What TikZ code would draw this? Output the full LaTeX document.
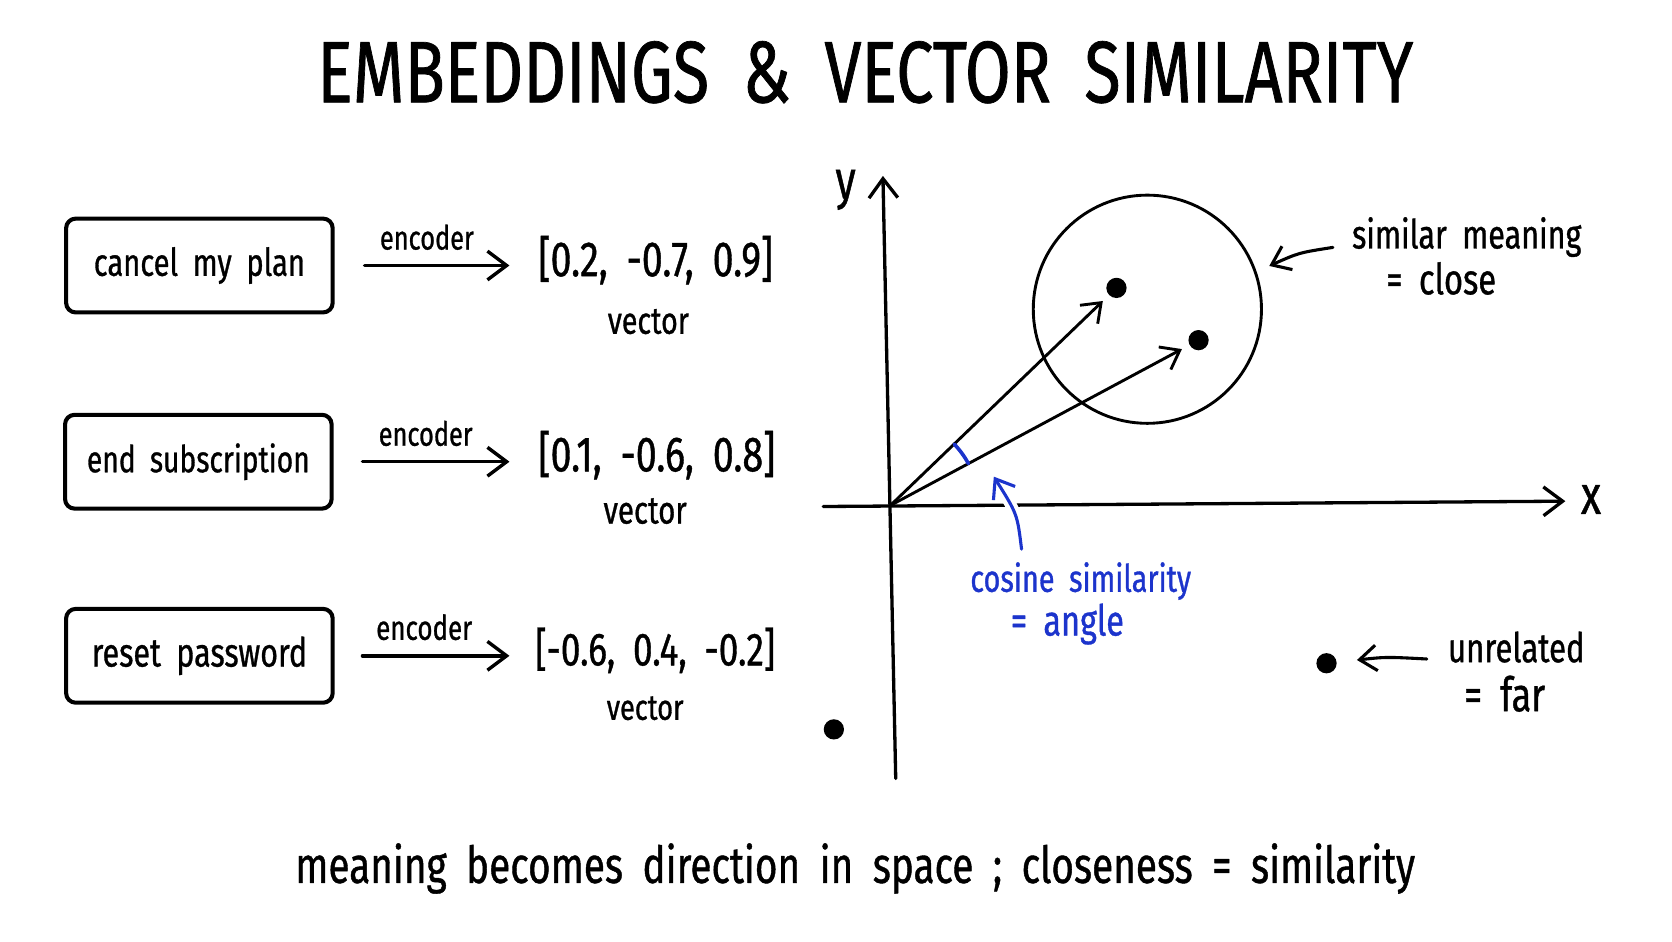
\documentclass[tikz,border=0pt]{standalone}
\usepackage{fontspec}
\setmainfont{Fira Sans}[FakeStretch=0.76,WordSpace=1.9,FakeBold=0.8]
\usetikzlibrary{arrows.meta}
\definecolor{inkblue}{RGB}{28,52,204}
\newcommand{\fw}[2]{\resizebox{#1pt}{!}{#2}}
\begin{document}
\begin{tikzpicture}[x=1pt,y=-1pt,line cap=round,line join=round,
  txt/.style={inner sep=0pt,anchor=base},
  wordbox/.style={draw,line width=3.8pt,rounded corners=9pt,minimum width=250pt,minimum height=88pt,inner sep=0pt},
  arr/.style={line width=3.2pt,-{Straight Barb[length=18pt,width=27pt,line width=3.2pt]}},
  vecarr/.style={line width=2.7pt,-{Straight Barb[length=16pt,width=24pt,line width=2.7pt]}},
  axarr/.style={line width=3.1pt,-{Straight Barb[length=18pt,width=27pt,line width=3.1pt]}},
  dot/.style={circle,fill=black,minimum size=19pt,inner sep=0pt},
  note/.style={line width=2.9pt,-{Straight Barb[length=16pt,width=24pt,line width=2.9pt]}},
  bluenote/.style={line width=2.9pt,draw=inkblue,-{Straight Barb[length=16pt,width=24pt,line width=2.9pt]},
    preaction={draw=white,line width=11pt,-}}
]
\useasboundingbox (0,0) rectangle (1568,882.5);
\fill[white] (0,0) rectangle (1568,882.5);

% title
\node[txt] (title) at (811.5,96) {\fw{1027}{EMBEDDINGS \& VECTOR SIMILARITY}};

% input boxes
\node[wordbox] (b1) at (187,249) {\fw{198}{cancel my plan}};
\node[wordbox] (b2) at (186,433) {\fw{209}{end subscription}};
\node[wordbox] (b3) at (187,615) {\fw{202}{reset password}};

% vectors
\node[txt] (v1) at (615,259) {\fw{220}{[0.2, -0.7, 0.9]}};
\node[txt] (v2) at (616,442) {\fw{222}{[0.1, -0.6, 0.8]}};
\node[txt] (v3) at (614.5,624) {\fw{225}{[-0.6, 0.4, -0.2]}};
\node[txt] (w1) at (608,313) {\fw{76}{vector}};
\node[txt] (w2) at (605,491) {\fw{78}{vector}};
\node[txt] (w3) at (605,675) {\fw{72}{vector}};

% encoder arrows
\draw[arr] ([xshift=28pt]b1.east) -- ([xshift=-27pt]v1.west |- b1.east)
  node[pos=0.43,anchor=base,yshift=15pt,inner sep=0pt] {\fw{88}{encoder}};
\draw[arr] ([xshift=27pt]b2.east) -- ([xshift=-27pt]v2.west |- b2.east)
  node[pos=0.43,anchor=base,yshift=15pt,inner sep=0pt] {\fw{88}{encoder}};
\draw[arr] ([xshift=26pt]b3.east) -- ([xshift=-24pt]v3.west |- b3.east)
  node[pos=0.42,anchor=base,yshift=15pt,inner sep=0pt] {\fw{90}{encoder}};

% axes
\coordinate (O) at (835,474);
\coordinate (xs) at (772,475);
\coordinate (xe) at (1468,470);
\coordinate (ys) at (840,730);
\coordinate (ye) at (828,165);
\draw[axarr] (xs) -- (xe);
\draw[axarr] (ys) -- (ye);
\node[txt] (xl) at (1492,482) {\fw{19}{x}};
\node[txt] (yl) at (793,186) {\fw{19}{y}};

% cluster circle and points
\node[draw,circle,line width=2.7pt,minimum size=214pt,inner sep=0pt] (cl) at (1076,290) {};
\node[dot] (p1) at (1047,270) {};
\node[dot] (p2) at (1124,319) {};
\node[dot] (p3) at (1244,622) {};
\node[dot] (p4) at (782,684) {};

\draw[vecarr,shorten >=8pt] (O) -- (p1);
\draw[vecarr,shorten >=8pt] (O) -- (p2);

% angle arc
\draw[inkblue,line width=3.4pt] ([shift={(-43.9:83)}]O) arc[start angle=-43.9,end angle=-28.2,radius=83];

% cosine similarity note
\coordinate (ba) at (958,515);
\coordinate (bt) at (932,447);
\draw[bluenote] (ba) .. controls (954,482) .. (bt);
\node[txt,text=inkblue] (cs1) at (1013.5,555) {\fw{207}{cosine similarity}};
\node[txt,text=inkblue] (cs2) at (1001,596) {\fw{106}{= angle}};

% similar meaning note
\node[txt] (sm1) at (1375.5,233) {\fw{215}{similar meaning}};
\node[txt] (sm2) at (1351.5,276) {\fw{103}{= close}};
\coordinate (sa) at (1250,232);
\draw[note,shorten >=13pt] (sa) .. controls (1218,237) .. (cl.19);

% unrelated note
\node[txt] (ur1) at (1422,621) {\fw{128}{unrelated}};
\node[txt] (ur2) at (1411,667) {\fw{76}{= far}};
\coordinate (ua) at (1338,618);
\draw[note,shorten >=19pt] (ua) .. controls (1300,616) .. (p3);

% footer
\node[txt] (foot) at (802,828) {\fw{1050}{meaning becomes direction in space ; closeness = similarity}};
\end{tikzpicture}
\end{document}
